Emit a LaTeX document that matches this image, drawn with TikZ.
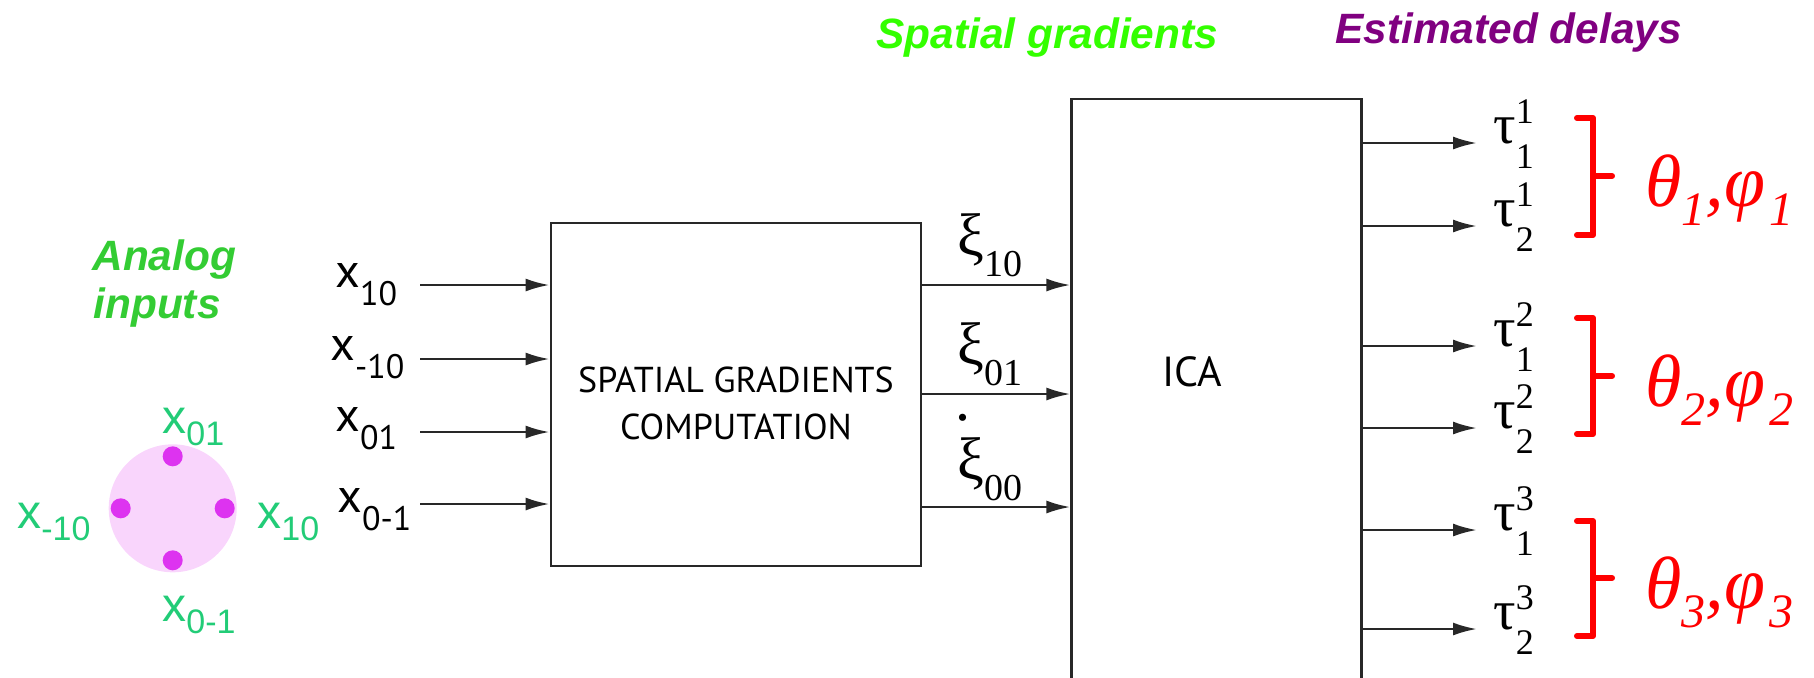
\documentclass[tikz,border=0pt]{standalone}
\usepackage{fontspec}
\setmainfont{Liberation Serif}
\newfontfamily\arialfont{Liberation Sans}
\newfontfamily\myriadfont{PT Sans}
\usetikzlibrary{arrows.meta, positioning, calc}
\definecolor{gradgreen} {RGB}{ 51, 255,   0}
\definecolor{inpgreen}  {RGB}{ 51, 204,  51}
\definecolor{lblgreen}  {RGB}{ 34, 204, 119}
\definecolor{delpurple} {RGB}{128,   0, 128}
\definecolor{padpink}   {RGB}{249, 213, 252}
\definecolor{padmag}    {RGB}{221,  51, 240}
\definecolor{angred}    {RGB}{255,   0,   0}
\definecolor{linegray}  {RGB}{ 40,  40,  40}
% lowered index: depth, size, text
\newcommand{\sbx}[3]{\raisebox{-#1}{\fontsize{#2}{#2}\selectfont #3}}
% tau with stacked indices
\newcommand{\taux}[2]{τ\rlap{\raisebox{-12.5pt}{\fontsize{18}{18}\selectfont #1}}\raisebox{10pt}{\fontsize{18}{18}\selectfont #2}}

\begin{document}
\begin{tikzpicture}[x=0.5pt,y=-0.5pt,
	blk/.style={draw=linegray,line width=1.4pt,inner sep=0pt},
	arr/.style={-{Latex[length=12pt,width=6.5pt]},line width=1.3pt,draw=linegray},
	ttl/.style={font=\arialfont\bfseries\itshape\fontsize{21.2}{24}\selectfont,inner sep=0pt,anchor=base west},
	padlbl/.style={text=lblgreen,font=\arialfont\fontsize{24}{24}\selectfont,inner sep=0pt,anchor=base west},
	inlbl/.style={font=\myriadfont\fontsize{24}{24}\selectfont,inner sep=0pt,anchor=base west},
	xilbl/.style={font=\fontsize{30}{30}\selectfont,inner sep=0pt,anchor=base west},
	taulbl/.style={font=\fontsize{28}{28}\selectfont,inner sep=0pt,anchor=base west},
	anglbl/.style={text=angred,font=\itshape\fontsize{37}{37}\selectfont,inner sep=0pt,anchor=base west},
	brc/.style={draw=angred,line width=3pt,line cap=round,line join=round}]
	\useasboundingbox (0,0) rectangle (1814,677);

	% titles
	\node[ttl,text=inpgreen] (analog) at (92,270) {Analog};
	\node[ttl,text=inpgreen] (inputs) at (93,318) {inputs};
	\node[ttl,text=gradgreen] (gradttl) at (876,48) {Spatial gradients};
	\node[ttl,text=delpurple] (delttl) at (1335,43) {Estimated delays};

	% sensor pad
	\node[circle,fill=padpink,minimum size=64pt,inner sep=0pt] (pad) at (172.7,508.3) {};
	\foreach \a in {0,90,180,270}
		\fill[padmag] (pad.center) ++(\a:26pt) circle (5pt);
	\node[padlbl] (pn) at (162,433) {x\sbx{6pt}{17}{01}};
	\node[padlbl] (ps) at (162,621) {x\sbx{6pt}{17}{0-1}};
	\node[padlbl] (pw) at (17,528) {x\sbx{6pt}{17}{-10}};
	\node[padlbl] (pe) at (257,528) {x\sbx{6pt}{17}{10}};

	% gradient block
	\node[blk,minimum width=185pt,minimum height=171.5pt] (sgc) at (736,394.5) {};
	\node[font=\myriadfont\fontsize{18}{23.5}\selectfont,align=center] (sgctxt) at (736,403) {SPATIAL GRADIENTS\\COMPUTATION};
	\node[inlbl] (x1) at (335,287) {x\sbx{9pt}{17}{10}};
	\node[inlbl] (x2) at (330,360) {x\sbx{9pt}{17}{-10}};
	\node[inlbl] (x3) at (335,431) {x\sbx{9pt}{17}{01}};
	\node[inlbl] (x4) at (337,512) {x\sbx{9pt}{17}{0-1}};
	\coordinate (i1) at (420,285);
	\coordinate (i2) at (420,359);
	\coordinate (i3) at (420,432);
	\coordinate (i4) at (420,504);
	\foreach \i in {1,...,4}
		\draw[arr] (i\i) -- (i\i -| sgc.west);

	% ICA block, open at the bottom
	\node[blk,minimum width=145pt,minimum height=330.5pt] (ica) at (1216.8,429.5) {};
	\node[font=\myriadfont\fontsize{21}{21}\selectfont] (icatxt) at (1192,372) {ICA};
	\node[xilbl] (xi1) at (957,255) {ξ\sbx{10.5pt}{19}{10}};
	\node[xilbl] (xi2) at (957,364) {ξ\sbx{10.5pt}{19}{01}};
	\node[xilbl] (xi3) at (957,479) {\rlap{\hspace{-0.03em}\raisebox{0.97em}{.}}ξ\sbx{10.5pt}{19}{00}};
	\coordinate (g1) at (921,285);
	\coordinate (g2) at (921,394);
	\coordinate (g3) at (921,507);
	\foreach \i in {1,2,3}
		\draw[arr] (g\i -| sgc.east) -- (g\i -| ica.west);

	% delays and angles
	\foreach \g/\ya/\yb in {1/143/226, 2/346/428, 3/530/629} {
		\node[taulbl] (ta\g) at (1493,\ya) {\taux{1}{\g}};
		\node[taulbl] (tb\g) at (1493,\yb) {\taux{2}{\g}};
		\draw[arr] (ta\g.base west -| ica.east) -- ([xshift=-8pt]ta\g.base west);
		\draw[arr] (tb\g.base west -| ica.east) -- ([xshift=-8pt]tb\g.base west);
	}
	\foreach \g/\yt/\yb/\ym in {1/118/235/176, 2/318/434/376, 3/521/636/578} {
		\draw[brc] (1577,\yt) -- (1593,\yt) -- (1593,\yb) -- (1577,\yb);
		\draw[brc] (1593,\ym) -- (1612,\ym);
		\node[anglbl] (ang\g) at (1645,\ym+30) {θ\sbx{9.5pt}{24}{\g},φ\hspace{2pt}\sbx{9.5pt}{24}{\g}};
	}
\end{tikzpicture}
\end{document}
